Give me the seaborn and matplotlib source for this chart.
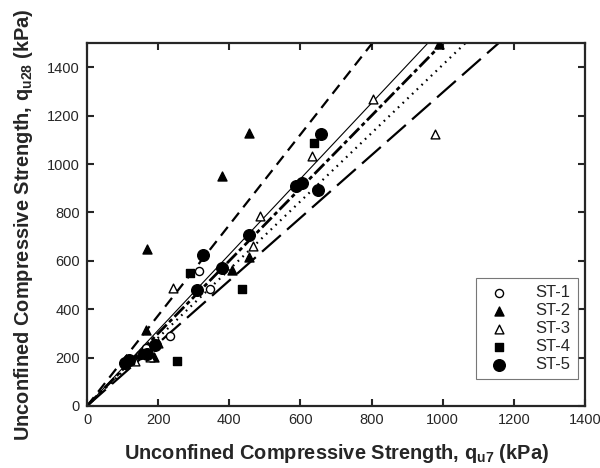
import matplotlib
matplotlib.use("Agg")
import matplotlib.pyplot as plt
import seaborn as sns
import numpy as np
import pandas as pd

# ---- data ----
st1_x = [314, 345, 232, 165, 150]
st1_y = [559, 483, 290, 238, 210]

st2_x = [169, 380, 456, 408, 455, 165, 187, 150, 990]
st2_y = [650, 952, 1129, 560, 614, 315, 204, 215, 1495]

st3_x = [979, 805, 632, 486, 466, 243, 178, 200, 135]
st3_y = [1124, 1268, 1034, 786, 661, 486, 204, 260, 185]

st4_x = [436, 253, 638, 289, 121, 159]
st4_y = [483, 187, 1085, 548, 190, 218]

st5_x = [657, 650, 587, 604, 455, 325, 380, 309, 192, 117, 170, 107]
st5_y = [1123, 893, 910, 923, 707, 624, 569, 479, 252, 190, 215, 176]

series_names = ["ST-1", "ST-2", "ST-3", "ST-4", "ST-5"]
# slopes of the fitted lines through the origin (qu28 / qu7)
fit_slopes = [1.87, 1.565, 1.50, 1.41, 1.296]
fit_x = [0, 1400]

plt.rcParams["lines.scale_dashes"] = False
sns.set_style("ticks")
plt.rcParams["font.family"] = ["Liberation Sans", "DejaVu Sans"]
plt.rcParams["mathtext.fontset"] = "custom"
plt.rcParams["mathtext.rm"] = "Liberation Sans"
plt.rcParams["mathtext.bf"] = "Liberation Sans:bold"

fig = plt.figure(figsize=(6.0, 4.68), dpi=100)
ax = fig.add_axes([0.145, 0.1325, 0.83, 0.7755])

# fitted lines
line_styles = [
    dict(lw=1.6, ls=(0, (8, 5))),
    dict(lw=0.8, ls="-"),
    dict(lw=2.0, ls=(0, (10, 2.5, 3, 2.5))),
    dict(lw=1.6, ls=(0, (1.2, 3.5))),
    dict(lw=1.6, ls=(0, (18, 6))),
]
for slope, st in zip(fit_slopes, line_styles):
    fx = np.array(fit_x, dtype=float)
    ax.plot(fx, slope * fx, color="black", lw=st["lw"], linestyle=st["ls"], zorder=2)

# scatter points
xs = [st1_x, st2_x, st3_x, st4_x, st5_x]
ys = [st1_y, st2_y, st3_y, st4_y, st5_y]
marker_specs = [
    dict(marker="o", facecolor="white", s=34),
    dict(marker="^", facecolor="black", s=42),
    dict(marker="^", facecolor="white", s=40),
    dict(marker="s", facecolor="black", s=30),
    dict(marker="o", facecolor="black", s=70),
]
for name, x, y, ms in zip(series_names, xs, ys, marker_specs):
    df = pd.DataFrame({"x": x, "y": y})
    sns.scatterplot(data=df, x="x", y="y", ax=ax, marker=ms["marker"],
                    facecolor=ms["facecolor"], edgecolor="black", linewidth=1.0,
                    s=ms["s"], label=name, zorder=3)

ax.set_xlim(0, 1400)
ax.set_ylim(0, 1500)
ax.set_xticks(range(0, 1401, 200))
ax.set_yticks(range(0, 1401, 200))
ax.tick_params(direction="in", length=5, width=1.5, top=True, right=True,
               labelsize=10.5, pad=5)
for sp in ax.spines.values():
    sp.set_linewidth(1.6)
    sp.set_visible(True)

ax.set_xlabel(r"Unconfined Compressive Strength, q$_{\mathbf{u7}}$ (kPa)",
              fontsize=14.4, fontweight="bold", labelpad=11)
ax.set_ylabel(r"Unconfined Compressive Strength, q$_{\mathbf{u28}}$ (kPa)",
              fontsize=14.4, fontweight="bold", labelpad=9)

leg = ax.legend(loc="lower right", bbox_to_anchor=(0.985, 0.075), fontsize=12,
                frameon=True, fancybox=False, edgecolor="#555555",
                handletextpad=1.2, labelspacing=0.18, borderpad=0.4,
                handlelength=2.0, borderaxespad=0)
leg.get_frame().set_linewidth(0.8)

fig.savefig("out.png", dpi=100)
